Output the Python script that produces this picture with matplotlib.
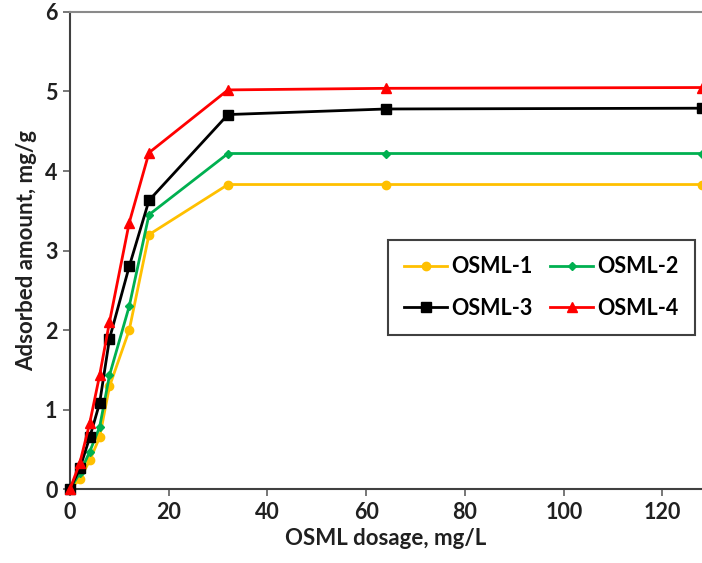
import matplotlib

matplotlib.use("Agg")

import matplotlib.pyplot as plt

plt.rcParams["font.family"] = ["Lato", "DejaVu Sans"]

dosage = [0, 2, 4, 6, 8, 12, 16, 32, 64, 128]

osml_1 = [0, 0.12, 0.36, 0.65, 1.29, 2.0, 3.2, 3.83, 3.83, 3.83]
osml_2 = [0, 0.2, 0.47, 0.78, 1.43, 2.3, 3.45, 4.22, 4.22, 4.22]
osml_3 = [0, 0.26, 0.65, 1.08, 1.89, 2.8, 3.63, 4.71, 4.78, 4.79]
osml_4 = [0, 0.33, 0.83, 1.43, 2.1, 3.35, 4.23, 5.02, 5.04, 5.05]

labels = ["OSML-1", "OSML-2", "OSML-3", "OSML-4"]
x_ticks = [0, 20, 40, 60, 80, 100, 120]
y_ticks = [0, 1, 2, 3, 4, 5, 6]

fig = plt.figure(figsize=(7.02, 5.63), dpi=100)
ax = fig.add_axes([0.0997, 0.1314, 0.9003, 0.8473])

styles = [
    (osml_1, "#FFC000", "o", 6),
    (osml_2, "#00B050", "D", 4),
    (osml_3, "#000000", "s", 7),
    (osml_4, "#FF0000", "^", 7),
]

lines = []
for (values, color, marker, size), label in zip(styles, labels):
    line, = ax.plot(dosage, values, color=color, marker=marker, markersize=size,
                    linewidth=2, label=label, clip_on=False, zorder=3)
    lines.append(line)

ax.set_xlim(0, 128)
ax.set_ylim(0, 6)
ax.set_xticks(x_ticks)
ax.set_yticks(y_ticks)

for side in ["left", "bottom"]:
    ax.spines[side].set_color("#404040")
    ax.spines[side].set_linewidth(1.5)
ax.spines["top"].set_color("#8a8a8a")
ax.spines["top"].set_linewidth(1.5)
ax.spines["right"].set_visible(False)

ax.tick_params(axis="both", direction="out", length=5, width=1.2,
               color="#606060", labelsize=15.5, pad=4)
for lbl in ax.get_xticklabels() + ax.get_yticklabels():
    lbl.set_fontweight("bold")
    lbl.set_color("#202020")

ax.set_xlabel("OSML dosage, mg/L", fontsize=16, fontweight="bold",
              color="#202020", labelpad=4)
ax.set_ylabel("Adsorbed amount, mg/g", fontsize=16, fontweight="bold",
              color="#202020", labelpad=6)

# column-wise fill in matplotlib, so reorder to get 1,2 / 3,4 rows
order = [0, 2, 1, 3]
leg = ax.legend([lines[i] for i in order], [labels[i] for i in order],
                ncol=2, loc="upper left", bbox_to_anchor=(0.503, 0.522),
                borderaxespad=0, prop={"size": 15.5, "weight": "bold"},
                fancybox=False, edgecolor="#404040", handlelength=2.0,
                columnspacing=0.8, labelspacing=0.95, borderpad=0.75,
                handletextpad=0.2, framealpha=1)
leg.get_frame().set_linewidth(1.5)

fig.savefig("out.png", dpi=100)
